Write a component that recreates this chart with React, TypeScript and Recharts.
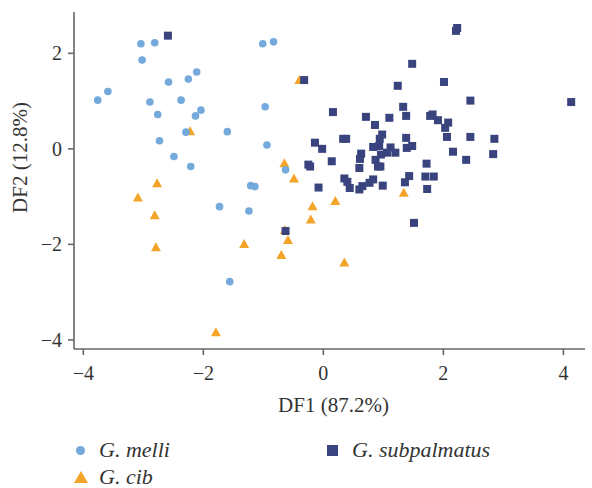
import { ScatterChart, Scatter, XAxis, YAxis, ZAxis } from 'recharts';

// DF1 / DF2 scores
const melli: [number, number][] = [
  [-3.04, 2.2], [-2.81, 2.22], [-3.02, 1.86], [-2.11, 1.61], [-2.58, 1.4],
  [-2.25, 1.46], [-3.59, 1.2], [-3.76, 1.02], [-2.89, 0.98], [-2.37, 1.02],
  [-2.04, 0.81], [-2.13, 0.69], [-2.76, 0.72], [-2.29, 0.35], [-1.6, 0.36],
  [-2.73, 0.17], [-2.49, -0.16], [-2.21, -0.37], [-1.01, 2.2], [-0.83, 2.24],
  [-0.97, 0.88], [-0.94, 0.08], [-0.63, -0.44], [-1.21, -0.77], [-1.14, -0.79],
  [-1.73, -1.21], [-1.24, -1.3], [-1.56, -2.78],
];

const cib: [number, number][] = [
  [-2.22, 0.37], [-0.4, 1.44], [-0.65, -0.3], [-0.49, -0.62], [-2.77, -0.72],
  [-3.09, -1.02], [-2.81, -1.39], [-2.79, -2.06], [-1.32, -1.99], [-1.79, -3.84],
  [0.2, -1.09], [-0.18, -1.2], [-0.21, -1.48], [-0.64, -1.7], [-0.59, -1.91],
  [-0.7, -2.22], [0.35, -2.38], [1.34, -0.92],
];

const subpalmatus: [number, number][] = [
  [-2.59, 2.37], [-0.32, 1.44], [1.48, 1.78], [1.24, 1.32], [2.23, 2.53],
  [2.21, 2.47], [2.01, 1.4], [2.45, 1.01], [4.13, 0.98], [1.33, 0.88],
  [0.16, 0.77], [0.71, 0.67], [1.1, 0.65], [1.38, 0.69], [1.78, 0.69],
  [1.82, 0.72], [1.91, 0.6], [2.08, 0.55], [2.03, 0.44], [0.86, 0.5],
  [0.98, 0.3], [0.94, 0.21], [1.38, 0.23], [2.06, 0.25], [2.45, 0.25],
  [2.85, 0.21], [0.33, 0.21], [0.38, 0.21], [-0.14, 0.13], [-0.02, 0.0],
  [0.83, 0.04], [0.93, 0.06], [1.12, 0.03], [1.2, -0.08], [1.06, -0.08],
  [1.39, 0.02], [1.48, 0.06], [2.16, -0.06], [2.38, -0.23], [2.83, -0.11],
  [0.14, -0.26], [0.63, -0.1], [0.61, -0.21], [-0.25, -0.33], [-0.22, -0.37],
  [0.6, -0.4], [0.87, -0.23], [0.96, -0.12], [0.91, -0.37], [0.95, -0.37],
  [1.72, -0.31], [0.35, -0.62], [0.4, -0.69], [0.44, -0.82], [-0.08, -0.81],
  [0.6, -0.85], [0.65, -0.78], [0.77, -0.71], [0.83, -0.64], [0.99, -0.77],
  [1.43, -0.57], [1.36, -0.7], [1.7, -0.58], [1.84, -0.58], [1.73, -0.84],
  [1.51, -1.55], [-0.63, -1.72],
];

const xTicks = [-4, -2, 0, 2, 4];
const yTicks = [-4, -2, 0, 2];

const FONT = '"Liberation Serif", "DejaVu Serif", serif';
const BLUE = '#74a9dc';
const ORANGE = '#f5a42a';
const NAVY = '#39447f';

const toPoints = (arr: [number, number][]) => arr.map(([x, y]) => ({ x, y }));
const fmt = (v: number) => String(v).replace('-', '\u2212');

const CircleDot = (p: any) => <circle cx={p.cx} cy={p.cy} r={3.8} fill={BLUE} />;
const SquareDot = (p: any) => <rect x={p.cx - 4} y={p.cy - 4} width={8} height={8} fill={NAVY} />;
const TriDot = (p: any) => (
  <polygon
    points={`${p.cx},${p.cy - 5} ${p.cx - 5},${p.cy + 4} ${p.cx + 5},${p.cy + 4}`}
    fill={ORANGE}
  />
);

const YLabel = ({ viewBox }: any) => {
  const x = viewBox.x + 20;
  const y = viewBox.y + viewBox.height / 2 - 23;
  return (
    <text
      x={x}
      y={y}
      transform={`rotate(-90 ${x} ${y})`}
      textAnchor="middle"
      dominantBaseline="central"
      fontSize={21}
      fontFamily={FONT}
      fill="#333"
    >
      DF2 (12.8%)
    </text>
  );
};

const legendText = { fontFamily: FONT, fontSize: 22, fontStyle: 'italic', color: '#333', lineHeight: '20px' } as const;

export default function App() {
  return (
    <div style={{ position: 'absolute', left: 0, top: 0, width: 592, height: 488, background: '#fff', overflow: 'hidden' }}>
      <ScatterChart width={592} height={488} margin={{ top: 12, right: 7, bottom: 69, left: 0 }}>
        <XAxis
          type="number"
          dataKey="x"
          domain={[-4.155, 4.36]}
          ticks={xTicks}
          allowDataOverflow
          tickFormatter={fmt}
          height={70}
          stroke="#666"
          strokeWidth={1.6}
          tickSize={6}
          tickMargin={11}
          tick={{ fill: '#333', fontSize: 20, fontFamily: FONT }}
          label={{ value: 'DF1 (87.2%)', position: 'insideBottom', offset: 7, dx: 4, fill: '#333', fontSize: 21, fontFamily: FONT }}
        />
        <YAxis
          type="number"
          dataKey="y"
          domain={[-4.19, 2.865]}
          ticks={yTicks}
          allowDataOverflow
          tickFormatter={fmt}
          width={74}
          stroke="#666"
          strokeWidth={1.6}
          tickSize={6}
          tickMargin={6}
          tick={{ fill: '#333', fontSize: 20, fontFamily: FONT }}
          label={{ content: YLabel }}
        />
        <ZAxis range={[50, 50]} />
        <Scatter name="G. cib" data={toPoints(cib)} shape={TriDot} isAnimationActive={false} />
        <Scatter name="G. melli" data={toPoints(melli)} shape={CircleDot} isAnimationActive={false} />
        <Scatter name="G. subpalmatus" data={toPoints(subpalmatus)} shape={SquareDot} isAnimationActive={false} />
      </ScatterChart>
      <div style={{ position: 'absolute', left: 74, top: 440, ...legendText }}>
        <span style={{ position: 'absolute', left: 2, top: 6, width: 9, height: 9, borderRadius: '50%', background: BLUE }} />
        <span style={{ position: 'absolute', left: 25, top: 0, whiteSpace: 'nowrap' }}>G. melli</span>
      </div>
      <div style={{ position: 'absolute', left: 74, top: 467, ...legendText }}>
        <svg style={{ position: 'absolute', left: 0, top: 4 }} width={14} height={13}>
          <polygon points="7,0 0,12 14,12" fill={ORANGE} />
        </svg>
        <span style={{ position: 'absolute', left: 25, top: 0, whiteSpace: 'nowrap' }}>G. cib</span>
      </div>
      <div style={{ position: 'absolute', left: 327, top: 440, ...legendText }}>
        <span style={{ position: 'absolute', left: 0, top: 5, width: 11, height: 11, background: NAVY }} />
        <span style={{ position: 'absolute', left: 25, top: 0, whiteSpace: 'nowrap' }}>G. subpalmatus</span>
      </div>
    </div>
  );
}
